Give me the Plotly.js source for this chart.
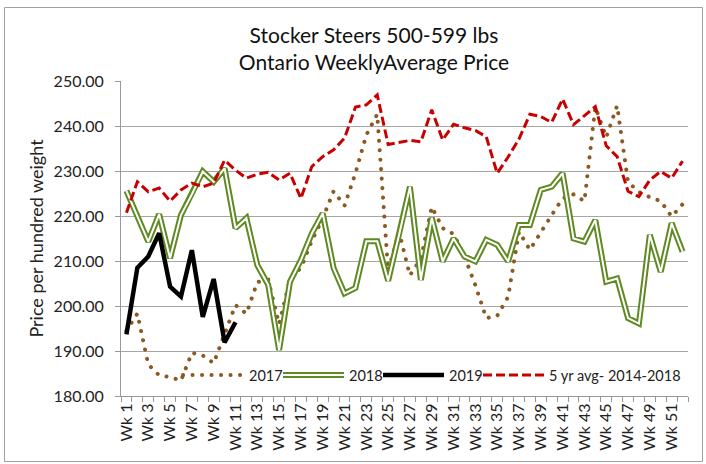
<!DOCTYPE html>
<html>
<head>
<meta charset="utf-8">
<script src="https://cdn.plot.ly/plotly-3.0.1.min.js"></script>
<style>
  html, body { margin: 0; padding: 0; background: #fff; }
  #chart { width: 706px; height: 464px; }
  path.js-line[style*="0.1px"] { stroke-linecap: round !important; }
</style>
</head>
<body>
<div id="chart"></div>
<script>
const weeks = ['Wk 1','Wk 2','Wk 3','Wk 4','Wk 5','Wk 6','Wk 7','Wk 8','Wk 9','Wk 10',
  'Wk 11','Wk 12','Wk 13','Wk 14','Wk 15','Wk 16','Wk 17','Wk 18','Wk 19','Wk 20',
  'Wk 21','Wk 22','Wk 23','Wk 24','Wk 25','Wk 26','Wk 27','Wk 28','Wk 29','Wk 30',
  'Wk 31','Wk 32','Wk 33','Wk 34','Wk 35','Wk 36','Wk 37','Wk 38','Wk 39','Wk 40',
  'Wk 41','Wk 42','Wk 43','Wk 44','Wk 45','Wk 46','Wk 47','Wk 48','Wk 49','Wk 50',
  'Wk 51','Wk 52'];

const tickLabels = ['Wk 1','','Wk 3','','Wk 5','','Wk 7','','Wk 9','',
  'Wk 11','','Wk 13','','Wk 15','','Wk 17','','Wk 19','',
  'Wk 21','','Wk 23','','Wk 25','','Wk 27','','Wk 29','',
  'Wk 31','','Wk 33','','Wk 35','','Wk 37','','Wk 39','',
  'Wk 41','','Wk 43','','Wk 45','','Wk 47','','Wk 49','',
  'Wk 51',''];

const y2017 = [194.5, 198.3, 187.0, 184.6, 184.2, 183.4, 189.6, 189.0, 187.3, 194.0,
  200.2, 198.3, 205.3, 205.8, 196.0, 206.0, 208.5, 214.5, 219.5, 225.5,
  222.3, 229.5, 238.0, 242.6, 207.8, 216.5, 206.8, 210.5, 222.0, 217.3,
  216.0, 211.0, 204.6, 197.3, 197.8, 202.0, 216.5, 212.5, 216.5, 220.2,
  223.9, 224.8, 223.3, 244.2, 237.5, 244.5, 227.6, 225.3, 224.2, 223.3,
  219.9, 222.6];

const y2018 = [225.6, 219.9, 214.3, 220.4, 210.6, 220.2, 224.8, 229.9, 227.6, 230.6,
  217.3, 219.5, 209.1, 204.7, 190.2, 205.4, 210.2, 216.1, 220.6, 208.4,
  202.8, 204.0, 214.4, 214.4, 205.6, 215.8, 226.5, 205.8, 219.6, 209.9,
  215.0, 211.0, 209.9, 214.7, 213.6, 209.9, 218.0, 218.0, 225.8, 226.5,
  229.5, 215.0, 214.3, 219.1, 205.4, 206.1, 197.3, 196.1, 215.8, 207.6,
  218.4, 212.1];

const y2019 = [193.7, 208.5, 211.0, 216.2, 204.3, 202.1, 212.4, 197.6, 206.0, 191.9, 196.4];

const avg5 = [220.7, 227.6, 225.4, 226.2, 223.3, 225.8, 227.3, 226.5, 227.3, 232.4,
  230.2, 228.4, 229.3, 229.7, 228.0, 229.5, 223.9, 231.0, 233.2, 234.7,
  237.3, 244.2, 244.7, 246.9, 235.9, 236.3, 236.8, 236.5, 243.6, 236.9,
  240.4, 239.6, 239.0, 237.6, 229.5, 233.1, 237.1, 242.6, 242.1, 240.8,
  246.0, 240.3, 242.4, 244.3, 235.6, 233.2, 225.5, 224.3, 228.0, 229.9,
  228.4, 232.2];

const seriesNames = ['2017', '2018', '2019', '5 yr avg- 2014-2018'];

const FONT = 'Lato, "Open Sans", sans-serif';
const GREEN = '#5f8a22';

const traces = [
  { x: weeks, y: y2017, name: seriesNames[0], type: 'scatter', mode: 'lines',
    line: { color: '#8b5a22', width: 4, dash: '0.1px,9.4px' } },
  { x: weeks, y: y2018, name: seriesNames[1], type: 'scatter', mode: 'lines',
    line: { color: GREEN, width: 6 }, legendgroup: 'g18' },
  { x: weeks, y: y2018, name: seriesNames[1], type: 'scatter', mode: 'lines',
    line: { color: '#ffffff', width: 2 }, showlegend: false, legendgroup: 'g18' },
  { x: weeks.slice(0, y2019.length), y: y2019, name: seriesNames[2], type: 'scatter', mode: 'lines',
    line: { color: '#000000', width: 4.5 } },
  { x: weeks, y: avg5, name: seriesNames[3], type: 'scatter', mode: 'lines',
    line: { color: '#c80000', width: 3, dash: '9px,4px' }, legendwidth: 134 }
];

const L = 121, R = 18, T = 81, B = 68;
const W = 706, H = 464;
const pw = W - L - R, ph = H - T - B;
const px = v => (v - L) / pw;
const py = v => (H - B - v) / ph;

const layout = {
  width: W, height: H,
  margin: { l: L, r: R, t: T, b: B, pad: 0 },
  paper_bgcolor: '#ffffff',
  plot_bgcolor: '#ffffff',
  font: { family: FONT, color: '#222222', size: 16 },
  title: {
    text: 'Stocker Steers 500-599 lbs<br>Ontario WeeklyAverage Price',
    font: { family: FONT, size: 21, color: '#111111' },
    x: 374 / W, xanchor: 'center', xref: 'container',
    y: 1 - 43 / H, yanchor: 'top', yref: 'container'
  },
  showlegend: true,
  legend: {
    orientation: 'h', x: 1, xanchor: 'right', y: py(375), yanchor: 'middle',
    bgcolor: 'rgba(0,0,0,0)', font: { family: FONT, size: 14.5, color: '#222' },
    itemwidth: 61, entrywidth: 24, entrywidthmode: 'pixels', traceorder: 'normal'
  },
  xaxis: {
    type: 'category',
    tickmode: 'array', tickvals: weeks, ticktext: tickLabels,
    tickson: 'boundaries', ticks: 'outside', ticklen: 5, tickcolor: '#999999',
    tickangle: -90, tickfont: { family: FONT, size: 16, color: '#222' },
    showline: true, linecolor: '#999999', linewidth: 1,
    showgrid: false, zeroline: false, automargin: false,
    range: [-0.5, 51.5]
  },
  yaxis: {
    range: [180, 250], dtick: 10, tick0: 180, tickformat: '.2f',
    ticks: 'outside', ticklen: 5, tickcolor: '#999999',
    tickfont: { family: FONT, size: 16, color: '#222' },
    ticklabelstandoff: 8,
    showline: true, linecolor: '#999999', linewidth: 1,
    showgrid: true, gridcolor: '#a6a6a6', gridwidth: 1,
    zeroline: false, automargin: false,
    title: { text: 'Price per hundred weight', font: { family: FONT, size: 18, color: '#222' }, standoff: 5 }
  },
  shapes: [
    { type: 'rect', xref: 'paper', yref: 'paper',
      x0: px(4.5), x1: px(702.5), y0: py(461.5), y1: py(7.5),
      line: { color: '#a0a0a0', width: 1 }, fillcolor: 'rgba(0,0,0,0)', layer: 'below' }
  ]
};

Plotly.newPlot('chart', traces, layout, { displayModeBar: false, staticPlot: true }).then(gd => {
  // give the 2018 legend sample the same double-line look
  const items = gd.querySelectorAll('.legend .traces');
  items.forEach(it => {
    const t = it.querySelector('.legendtext');
    if (t && t.textContent === '2018') {
      const p = it.querySelector('path.js-line');
      if (p) {
        const c = p.cloneNode(true);
        c.style.stroke = '#ffffff';
        c.style.strokeWidth = '2px';
        p.parentNode.appendChild(c);
      }
    }
  });
});
</script>
</body>
</html>
